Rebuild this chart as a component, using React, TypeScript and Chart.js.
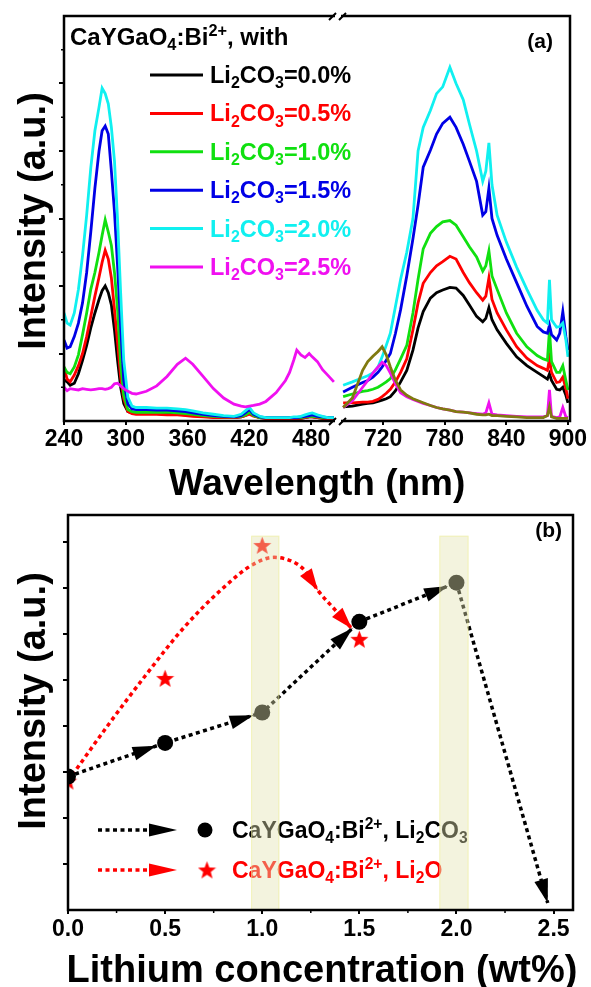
import React, { useEffect, useRef } from 'react';
import { Chart, registerables } from 'chart.js';

Chart.register(...registerables);

const FONT = '"Liberation Sans", Arial, Helvetica, sans-serif';

// ---------------- Panel (a): emission spectra (broken wavelength axis) ----------------
const WL_LEFT = [240, 243, 246, 250, 254, 258, 262, 266, 270, 274, 277, 280, 283, 286, 289, 292, 295, 298, 302, 306, 310, 320, 330, 340, 350, 358, 365, 375, 385, 395, 405, 412, 416, 420, 424, 430, 436, 446, 455, 459, 463, 466, 470, 474, 478, 481, 486, 491, 496, 502];
const WL_RIGHT = [681, 690, 700, 705, 710, 715, 719, 723, 727, 732, 737, 743, 749, 754, 759, 766, 772, 778, 785, 791, 798, 804, 811, 817, 820, 823, 826, 831, 840, 850, 860, 870, 876, 880, 882, 884, 889, 892, 895, 898, 900];

const LI00_L = [0.61, 0.58, 0.53, 0.56, 0.70, 0.90, 1.12, 1.38, 1.60, 1.80, 1.93, 2.00, 1.90, 1.72, 1.35, 0.90, 0.50, 0.26, 0.14, 0.12, 0.11, 0.11, 0.11, 0.10, 0.10, 0.09, 0.08, 0.07, 0.06, 0.05, 0.05, 0.06, 0.08, 0.12, 0.08, 0.05, 0.04, 0.04, 0.04, 0.04, 0.04, 0.04, 0.04, 0.05, 0.06, 0.06, 0.05, 0.04, 0.04, 0.04];
const LI05_L = [0.80, 0.62, 0.58, 0.68, 0.82, 1.00, 1.25, 1.55, 1.85, 2.13, 2.35, 2.53, 2.40, 2.12, 1.65, 1.16, 0.65, 0.33, 0.14, 0.11, 0.10, 0.10, 0.10, 0.09, 0.09, 0.08, 0.07, 0.06, 0.05, 0.05, 0.05, 0.06, 0.08, 0.10, 0.07, 0.05, 0.04, 0.04, 0.04, 0.04, 0.04, 0.04, 0.04, 0.05, 0.06, 0.06, 0.05, 0.04, 0.04, 0.04];
const LI10_L = [0.80, 0.72, 0.70, 0.80, 0.98, 1.28, 1.60, 1.95, 2.20, 2.50, 2.75, 2.98, 2.80, 2.60, 2.20, 1.65, 0.85, 0.38, 0.17, 0.14, 0.13, 0.13, 0.13, 0.13, 0.12, 0.11, 0.10, 0.08, 0.07, 0.06, 0.06, 0.07, 0.09, 0.13, 0.08, 0.05, 0.05, 0.05, 0.05, 0.05, 0.05, 0.05, 0.05, 0.06, 0.07, 0.07, 0.06, 0.05, 0.05, 0.05];
const LI15_L = [1.20, 1.08, 1.10, 1.25, 1.45, 1.75, 2.20, 2.80, 3.45, 4.00, 4.30, 4.37, 4.25, 3.70, 3.10, 2.30, 1.40, 0.60, 0.25, 0.18, 0.17, 0.17, 0.16, 0.16, 0.15, 0.14, 0.12, 0.10, 0.08, 0.07, 0.06, 0.08, 0.12, 0.17, 0.10, 0.06, 0.05, 0.05, 0.05, 0.05, 0.05, 0.05, 0.06, 0.07, 0.08, 0.09, 0.07, 0.06, 0.05, 0.05];
const LI20_L = [1.60, 1.45, 1.42, 1.60, 1.95, 2.45, 3.05, 3.75, 4.30, 4.65, 4.93, 4.85, 4.70, 4.35, 3.85, 2.98, 1.90, 0.90, 0.35, 0.22, 0.20, 0.20, 0.19, 0.19, 0.18, 0.17, 0.15, 0.12, 0.10, 0.08, 0.07, 0.10, 0.15, 0.20, 0.12, 0.07, 0.05, 0.05, 0.05, 0.05, 0.06, 0.06, 0.07, 0.09, 0.11, 0.12, 0.09, 0.07, 0.05, 0.05];
const LI25_L = [0.50, 0.45, 0.48, 0.47, 0.46, 0.48, 0.47, 0.46, 0.47, 0.48, 0.48, 0.47, 0.48, 0.50, 0.55, 0.56, 0.52, 0.48, 0.44, 0.41, 0.40, 0.44, 0.52, 0.66, 0.84, 0.93, 0.84, 0.66, 0.48, 0.34, 0.25, 0.22, 0.21, 0.22, 0.23, 0.25, 0.29, 0.42, 0.60, 0.72, 0.90, 1.05, 0.98, 0.94, 1.00, 0.95, 0.88, 0.76, 0.68, 0.58];

const LI00_R = [0.21, 0.22, 0.25, 0.26, 0.27, 0.29, 0.31, 0.33, 0.36, 0.45, 0.58, 0.75, 1.05, 1.38, 1.62, 1.82, 1.90, 1.94, 1.98, 1.97, 1.86, 1.72, 1.55, 1.47, 1.52, 1.68, 1.50, 1.35, 1.15, 0.95, 0.82, 0.72, 0.66, 0.62, 0.70, 0.60, 0.47, 0.46, 0.50, 0.38, 0.27];
const LI05_R = [0.27, 0.27, 0.28, 0.28, 0.29, 0.32, 0.36, 0.41, 0.47, 0.58, 0.72, 0.92, 1.35, 1.75, 2.04, 2.20, 2.30, 2.36, 2.44, 2.40, 2.20, 2.05, 1.90, 1.79, 1.85, 2.12, 1.80, 1.60, 1.35, 1.10, 0.93, 0.82, 0.78, 0.75, 0.92, 0.72, 0.57, 0.58, 0.65, 0.48, 0.33];
const LI10_R = [0.36, 0.40, 0.44, 0.45, 0.47, 0.50, 0.54, 0.58, 0.63, 0.76, 0.92, 1.12, 1.60, 2.10, 2.55, 2.78, 2.88, 2.95, 2.97, 2.90, 2.73, 2.58, 2.43, 2.22, 2.30, 2.52, 2.15, 1.95, 1.60, 1.30, 1.10, 0.97, 0.92, 0.90, 1.35, 0.88, 0.72, 0.72, 0.82, 0.60, 0.46];
const LI15_R = [0.43, 0.50, 0.57, 0.60, 0.65, 0.72, 0.80, 0.90, 1.00, 1.30, 1.65, 2.15, 2.70, 3.20, 3.76, 4.01, 4.25, 4.41, 4.50, 4.35, 4.10, 3.85, 3.55, 3.05, 3.10, 3.45, 3.00, 2.75, 2.40, 2.05, 1.70, 1.40, 1.32, 1.30, 1.42, 1.28, 1.20, 1.30, 1.62, 1.25, 1.05];
const LI20_R = [0.53, 0.58, 0.64, 0.67, 0.71, 0.80, 0.95, 1.12, 1.30, 1.70, 2.10, 2.50, 3.00, 4.00, 4.35, 4.60, 4.85, 4.95, 5.24, 5.00, 4.76, 4.40, 4.00, 3.55, 3.70, 4.12, 3.50, 3.05, 2.65, 2.28, 1.95, 1.64, 1.50, 1.45, 2.09, 1.50, 1.39, 1.40, 1.45, 1.20, 0.95];
const LI25_R = [0.20, 0.30, 0.50, 0.60, 0.71, 0.80, 0.87, 0.82, 0.71, 0.55, 0.42, 0.36, 0.32, 0.29, 0.26, 0.23, 0.20, 0.18, 0.16, 0.14, 0.13, 0.12, 0.11, 0.10, 0.12, 0.27, 0.10, 0.09, 0.08, 0.07, 0.06, 0.06, 0.06, 0.08, 0.46, 0.07, 0.05, 0.06, 0.20, 0.06, 0.05];
const OLIVE_R = [0.20, 0.34, 0.75, 0.88, 0.96, 1.03, 1.10, 0.98, 0.80, 0.60, 0.46, 0.38, 0.33, 0.30, 0.27, 0.23, 0.20, 0.18, 0.16, 0.14, 0.13, 0.12, 0.10, 0.09, 0.09, 0.10, 0.08, 0.08, 0.07, 0.06, 0.05, 0.05, 0.05, 0.08, 0.21, 0.06, 0.04, 0.04, 0.04, 0.04, 0.04];

const SERIES_LABELS = ['0.0', '0.5', '1.0', '1.5', '2.0', '2.5'];
const SERIES_COLORS = ['#000000', '#ff0000', '#10e010', '#0000e6', '#10f0f0', '#f010f0'];
const SERIES_LEFT = [LI00_L, LI05_L, LI10_L, LI15_L, LI20_L, LI25_L];
const SERIES_RIGHT = [LI00_R, LI05_R, LI10_R, LI15_R, LI20_R, LI25_R];
const OLIVE_COLOR = '#807a10';

const LEFT_TICKS = [240, 300, 360, 420, 480];
const RIGHT_TICKS = [720, 780, 840, 900];
const Y_TICKS_A = [1, 2, 3, 4, 5];
const Y_MINOR_A = [0.5, 1.5, 2.5, 3.5, 4.5, 5.5];

// ---------------- Panel (b): intensity vs lithium concentration ----------------
const CONC = [0, 0.5, 1.0, 1.5, 2.0];
const LI2CO3_INT = [2.9, 3.63, 4.29, 6.26, 7.11];
const LI2CO3_ARROW_END = [2.47, 0.15];
const LI2O_CONC = [0, 0.5, 1.0, 1.5];
const LI2O_INT = [2.8, 5.03, 7.92, 5.88];
const LI2O_TREND_X = [0, 0.2, 0.4, 0.6, 0.8, 0.95, 1.06, 1.16, 1.22, 1.287, 1.375, 1.462];
const LI2O_TREND_Y = [2.8, 3.98, 5.1, 6.15, 7.0, 7.5, 7.66, 7.56, 7.37, 6.94, 6.52, 6.11];
const LI2O_ARROW_TIPS = [9, 11];
const BANDS = [[0.943, 1.088], [1.912, 2.062]];
const BAND_TOP = 8.13;
const CONC_TICKS = [0, 0.5, 1.0, 1.5, 2.0, 2.5];
const CONC_MINOR = [0.25, 0.75, 1.25, 1.75, 2.25];
const Y_TICKS_B = [1, 2, 3, 4, 5, 6, 7, 8];

type Seg = { t: string; s?: 'sub' | 'sup' };

function drawRich(ctx: CanvasRenderingContext2D, segs: Seg[], x: number, y: number, size: number, color: string) {
  let cx = x;
  ctx.fillStyle = color;
  ctx.textAlign = 'left';
  ctx.textBaseline = 'alphabetic';
  for (const seg of segs) {
    const fs = seg.s ? size * 0.68 : size;
    ctx.font = `bold ${fs}px ${FONT}`;
    const dy = seg.s === 'sub' ? size * 0.22 : seg.s === 'sup' ? -size * 0.38 : 0;
    ctx.fillText(seg.t, cx, y + dy);
    cx += ctx.measureText(seg.t).width;
  }
}

function arrowHead(ctx: CanvasRenderingContext2D, tx: number, ty: number, dx: number, dy: number, len: number, half: number, color: string) {
  const n = Math.hypot(dx, dy) || 1;
  const ux = dx / n, uy = dy / n;
  const bx = tx - ux * len, by = ty - uy * len;
  ctx.beginPath();
  ctx.moveTo(tx, ty);
  ctx.lineTo(bx - uy * half, by + ux * half);
  ctx.lineTo(bx + uy * half, by - ux * half);
  ctx.closePath();
  ctx.fillStyle = color;
  ctx.fill();
}

function makeStar(size: number, color: string): HTMLCanvasElement {
  const c = document.createElement('canvas');
  c.width = size;
  c.height = size;
  const g = c.getContext('2d')!;
  const R = size / 2, r = R * 0.42, cx = R, cy = R * 1.08;
  g.beginPath();
  for (let k = 0; k < 10; k++) {
    const ang = -Math.PI / 2 + (k * Math.PI) / 5;
    const rad = k % 2 === 0 ? R : r;
    const px = cx + rad * Math.cos(ang), py = cy + rad * Math.sin(ang);
    if (k === 0) g.moveTo(px, py); else g.lineTo(px, py);
  }
  g.closePath();
  g.fillStyle = color;
  g.fill();
  return c;
}

const tickFont = { family: FONT, size: 23, weight: 'bold' as const };

function fixBox(w?: number, h?: number) {
  return (s: any) => {
    if (w !== undefined) s.width = w;
    if (h !== undefined) s.height = h;
    s.paddingLeft = 0; s.paddingRight = 0; s.paddingTop = 0; s.paddingBottom = 0;
  };
}

const panelAPlugin = {
  id: 'panelA',
  afterDraw(chart: any) {
    const { ctx, chartArea: ca } = chart;
    const y = chart.scales.y;
    const xL = chart.scales.xL;
    ctx.save();
    ctx.strokeStyle = '#000';
    ctx.lineWidth = 1.5;
    for (const v of Y_MINOR_A) {
      const py = y.getPixelForValue(v);
      ctx.beginPath(); ctx.moveTo(ca.left - 3, py); ctx.lineTo(ca.left, py); ctx.stroke();
    }
    ctx.lineWidth = 2.5;
    ctx.strokeRect(ca.left, ca.top, ca.right - ca.left, ca.bottom - ca.top);
    const xb = xL.right;
    for (const yy of [ca.top, ca.bottom]) {
      ctx.fillStyle = '#fff';
      ctx.fillRect(xb - 3, yy - 3, 6, 6);
      ctx.lineWidth = 2;
      ctx.beginPath();
      ctx.moveTo(xb - 9, yy + 4); ctx.lineTo(xb - 2, yy - 3);
      ctx.moveTo(xb + 1, yy + 4); ctx.lineTo(xb + 8, yy - 3);
      ctx.stroke();
    }
    // title inside plot
    drawRich(ctx, [{ t: 'CaYGaO' }, { t: '4', s: 'sub' }, { t: ':Bi' }, { t: '2+', s: 'sup' }, { t: ', with' }], 70, 45, 24, '#000');
    ctx.font = `bold 21px ${FONT}`;
    ctx.fillStyle = '#000';
    ctx.textAlign = 'right';
    ctx.fillText('(a)', 553, 48);
    // legend
    SERIES_LABELS.forEach((lab, i) => {
      const cy = 75 + i * 38.4;
      ctx.strokeStyle = SERIES_COLORS[i];
      ctx.lineWidth = 3;
      ctx.beginPath(); ctx.moveTo(150, cy); ctx.lineTo(203, cy); ctx.stroke();
      drawRich(ctx, [{ t: 'Li' }, { t: '2', s: 'sub' }, { t: 'CO' }, { t: '3', s: 'sub' }, { t: '=' + lab + '%' }], 210, cy + 8, 23.5, SERIES_COLORS[i]);
    });
    // axis titles
    ctx.fillStyle = '#000';
    ctx.font = `bold 38px ${FONT}`;
    ctx.textAlign = 'center';
    ctx.textBaseline = 'alphabetic';
    ctx.save();
    ctx.translate(45, 221);
    ctx.rotate(-Math.PI / 2);
    ctx.fillText('Intensity (a.u.)', 0, 0);
    ctx.restore();
    ctx.font = `bold 37px ${FONT}`;
    ctx.fillText('Wavelength (nm)', 317, 495);
    ctx.restore();
  },
};

const STAR_IMG = typeof document !== 'undefined' ? makeStar(19, '#ff0000') : null;

const panelBPlugin = {
  id: 'panelB',
  afterDatasetsDraw(chart: any) {
    const { ctx } = chart;
    const xs = chart.scales.x, ys = chart.scales.y;
    ctx.save();
    const pts = CONC.map((c, i) => [xs.getPixelForValue(c), ys.getPixelForValue(LI2CO3_INT[i])]);
    pts.push([xs.getPixelForValue(LI2CO3_ARROW_END[0]), ys.getPixelForValue(LI2CO3_ARROW_END[1])]);
    for (let i = 0; i < pts.length - 1; i++) {
      const [x0, y0] = pts[i];
      const [x1, y1] = pts[i + 1];
      const dx = x1 - x0, dy = y1 - y0;
      const n = Math.hypot(dx, dy);
      const back = i + 1 < CONC.length ? 9 : 0;
      arrowHead(ctx, x1 - (dx / n) * back, y1 - (dy / n) * back, dx, dy, 24, 7, '#000');
    }
    for (const k of LI2O_ARROW_TIPS) {
      const x1 = xs.getPixelForValue(LI2O_TREND_X[k]), y1 = ys.getPixelForValue(LI2O_TREND_Y[k]);
      const x0 = xs.getPixelForValue(LI2O_TREND_X[k - 1]), y0 = ys.getPixelForValue(LI2O_TREND_Y[k - 1]);
      arrowHead(ctx, x1, y1, x1 - x0, y1 - y0, 22, 7, '#ff0000');
    }
    ctx.restore();
  },
  afterDraw(chart: any) {
    const { ctx, chartArea: ca } = chart;
    const xs = chart.scales.x, ys = chart.scales.y;
    ctx.save();
    ctx.strokeStyle = '#000';
    ctx.lineWidth = 1.5;
    for (const v of CONC_MINOR) {
      const px = xs.getPixelForValue(v);
      ctx.beginPath(); ctx.moveTo(px, ca.bottom); ctx.lineTo(px, ca.bottom + 3); ctx.stroke();
    }
    // legend
    const rows = [
      { y: 325, color: '#000', segs: [{ t: 'CaYGaO' }, { t: '4', s: 'sub' }, { t: ':Bi' }, { t: '2+', s: 'sup' }, { t: ', Li' }, { t: '2', s: 'sub' }, { t: 'CO' }, { t: '3', s: 'sub' }] as Seg[], star: false },
      { y: 365, color: '#ff0000', segs: [{ t: 'CaYGaO' }, { t: '4', s: 'sub' }, { t: ':Bi' }, { t: '2+', s: 'sup' }, { t: ', Li' }, { t: '2', s: 'sub' }, { t: 'O' }] as Seg[], star: true },
    ];
    for (const r of rows) {
      ctx.strokeStyle = r.color;
      ctx.lineWidth = 3.5;
      ctx.setLineDash([4, 3.5]);
      ctx.beginPath(); ctx.moveTo(98, r.y); ctx.lineTo(152, r.y); ctx.stroke();
      ctx.setLineDash([]);
      arrowHead(ctx, 177, r.y, 1, 0, 28, 6.5, r.color);
      if (r.star) {
        if (STAR_IMG) ctx.drawImage(STAR_IMG, 207 - 9.5, r.y - 9.5, 19, 19);
      } else {
        ctx.beginPath(); ctx.arc(205, r.y, 7.5, 0, Math.PI * 2); ctx.fillStyle = '#000'; ctx.fill();
      }
      drawRich(ctx, r.segs, 232, r.y + 8, 23, r.color);
    }
    ctx.fillStyle = '#000';
    ctx.font = `bold 21px ${FONT}`;
    ctx.textAlign = 'right';
    ctx.textBaseline = 'alphabetic';
    ctx.fillText('(b)', 562, 32);
    // axis titles
    ctx.textAlign = 'center';
    ctx.font = `bold 38px ${FONT}`;
    ctx.save();
    ctx.translate(45, 196);
    ctx.rotate(-Math.PI / 2);
    ctx.fillText('Intensity (a.u.)', 0, 0);
    ctx.restore();
    ctx.font = `bold 38px ${FONT}`;
    ctx.fillText('Lithium concentration (wt%)', 322, 477);
    // highlight bands (semi-transparent, on top)
    const yTop = ys.getPixelForValue(BAND_TOP);
    for (const [a, b] of BANDS) {
      const xa = xs.getPixelForValue(a), xbb = xs.getPixelForValue(b);
      ctx.fillStyle = 'rgba(226,226,176,0.42)';
      ctx.fillRect(xa, yTop, xbb - xa, ca.bottom - yTop);
      ctx.strokeStyle = 'rgba(240,240,150,0.55)';
      ctx.lineWidth = 1;
      ctx.strokeRect(xa + 0.5, yTop + 0.5, xbb - xa - 1, ca.bottom - yTop - 1);
    }
    // frame
    ctx.strokeStyle = '#000';
    ctx.lineWidth = 2.5;
    ctx.strokeRect(ca.left, ca.top, ca.right - ca.left, ca.bottom - ca.top);
    ctx.restore();
  },
};

function configA(): any {
  const datasets: any[] = [];
  const n = SERIES_LABELS.length;
  SERIES_LEFT.forEach((arr, i) => {
    datasets.push({
      label: 'L' + SERIES_LABELS[i],
      data: WL_LEFT.map((w, k) => ({ x: w, y: arr[k] })),
      xAxisID: 'xL', yAxisID: 'y',
      borderColor: SERIES_COLORS[i], borderWidth: 2.8, pointRadius: 0, tension: 0, order: n + 1 - i,
    });
  });
  SERIES_RIGHT.forEach((arr, i) => {
    datasets.push({
      label: 'R' + SERIES_LABELS[i],
      data: WL_RIGHT.map((w, k) => ({ x: w, y: arr[k] })),
      xAxisID: 'xR', yAxisID: 'y',
      borderColor: SERIES_COLORS[i], borderWidth: 2.8, pointRadius: 0, tension: 0, order: n + 1 - i,
    });
  });
  datasets.push({
    label: 'olive',
    data: WL_RIGHT.map((w, k) => ({ x: w, y: OLIVE_R[k] })),
    xAxisID: 'xR', yAxisID: 'y',
    borderColor: OLIVE_COLOR, borderWidth: 2.8, pointRadius: 0, tension: 0, order: 0,
  });
  const xGrid = { display: true, drawOnChartArea: false, drawTicks: true, tickLength: 4, color: '#000', lineWidth: 2 };
  const xTicks = { autoSkip: false, maxRotation: 0, minRotation: 0, padding: 1, color: '#000', font: tickFont, callback: (v: any) => String(v) };
  return {
    type: 'line',
    data: { datasets },
    options: {
      responsive: false,
      animation: false,
      events: [],
      layout: { padding: { left: 0, top: 16, right: 21, bottom: 0 } },
      plugins: { legend: { display: false }, tooltip: { enabled: false } },
      scales: {
        xL: {
          type: 'linear', position: 'bottom', stack: 'wl', stackWeight: 274, min: 240, max: 506,
          afterBuildTicks: (s: any) => { s.ticks = LEFT_TICKS.map((v) => ({ value: v })); },
          afterFit: fixBox(undefined, 84),
          ticks: xTicks, grid: xGrid, border: { display: false },
        },
        xR: {
          type: 'linear', position: 'bottom', stack: 'wl', stackWeight: 232, min: 676, max: 902,
          afterBuildTicks: (s: any) => { s.ticks = RIGHT_TICKS.map((v) => ({ value: v })); },
          afterFit: fixBox(undefined, 84),
          ticks: xTicks, grid: xGrid, border: { display: false },
        },
        y: {
          type: 'linear', position: 'left', min: 0, max: 6,
          afterBuildTicks: (s: any) => { s.ticks = Y_TICKS_A.map((v) => ({ value: v })); },
          afterFit: fixBox(64, undefined),
          ticks: { display: false },
          grid: { display: true, drawOnChartArea: false, drawTicks: true, tickLength: 5, color: '#000', lineWidth: 2 },
          border: { display: false },
        },
      },
    },
    plugins: [panelAPlugin],
  };
}

function configB(): any {
  const lineData = CONC.map((c, i) => ({ x: c, y: LI2CO3_INT[i] }));
  lineData.push({ x: LI2CO3_ARROW_END[0], y: LI2CO3_ARROW_END[1] });
  return {
    type: 'line',
    data: {
      datasets: [
        {
          label: 'Li2CO3',
          data: lineData,
          borderColor: '#000', borderWidth: 3.5, borderDash: [4, 3.5], tension: 0,
          pointRadius: (c: any) => (c.dataIndex < CONC.length ? 8 : 0),
          pointBackgroundColor: '#000', pointBorderWidth: 0, order: 0,
        },
        {
          label: 'Li2O',
          data: LI2O_CONC.map((c, i) => ({ x: c, y: LI2O_INT[i] })),
          showLine: false, pointStyle: STAR_IMG, pointRadius: 9, order: 1,
        },
        {
          label: 'Li2O trend',
          data: LI2O_TREND_X.map((c, i) => ({ x: c, y: LI2O_TREND_Y[i] })),
          borderColor: '#ff0000', borderWidth: 3.5, borderDash: [4, 3.5], cubicInterpolationMode: 'monotone', pointRadius: 0, order: 2,
        },
      ],
    },
    options: {
      responsive: false,
      animation: false,
      events: [],
      layout: { padding: { left: 0, top: 1, right: 18, bottom: 0 } },
      plugins: { legend: { display: false }, tooltip: { enabled: false } },
      scales: {
        x: {
          type: 'linear', position: 'bottom', min: 0, max: 2.6,
          afterBuildTicks: (s: any) => { s.ticks = CONC_TICKS.map((v) => ({ value: v })); },
          afterFit: fixBox(undefined, 77),
          ticks: { autoSkip: false, maxRotation: 0, minRotation: 0, padding: 2, color: '#000', font: tickFont, callback: (v: any) => Number(v).toFixed(1) },
          grid: { display: true, drawOnChartArea: false, drawTicks: true, tickLength: 4, color: '#000', lineWidth: 2 },
          border: { display: false },
        },
        y: {
          type: 'linear', position: 'left', min: 0, max: 8.58,
          afterBuildTicks: (s: any) => { s.ticks = Y_TICKS_B.map((v) => ({ value: v })); },
          afterFit: fixBox(68, undefined),
          ticks: { display: false },
          grid: { display: true, drawOnChartArea: false, drawTicks: true, tickLength: 5, color: '#000', lineWidth: 2 },
          border: { display: false },
        },
      },
    },
    plugins: [panelBPlugin],
  };
}

export default function App() {
  const refA = useRef<HTMLCanvasElement>(null);
  const refB = useRef<HTMLCanvasElement>(null);
  useEffect(() => {
    const a = new Chart(refA.current!, configA());
    const b = new Chart(refB.current!, configB());
    return () => {
      a.destroy();
      b.destroy();
    };
  }, []);
  return (
    <div style={{ position: 'absolute', left: 0, top: 0, width: 591, height: 987, background: '#fff', overflow: 'hidden' }}>
      <canvas ref={refA} width={591} height={505} style={{ position: 'absolute', left: 0, top: 0, width: 591, height: 505 }} />
      <canvas ref={refB} width={591} height={482} style={{ position: 'absolute', left: 0, top: 505, width: 591, height: 482 }} />
    </div>
  );
}
